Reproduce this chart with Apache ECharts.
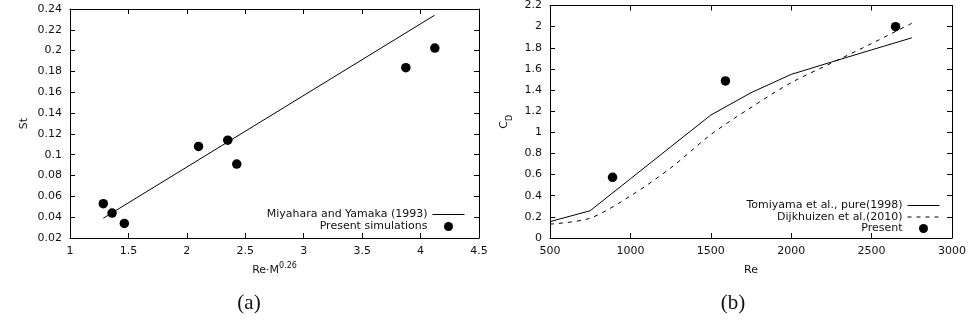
<!DOCTYPE html>
<html>
<head>
<meta charset="utf-8">
<script src="https://cdn.jsdelivr.net/npm/echarts@6/dist/echarts.min.js"></script>
<style>
html,body{margin:0;padding:0;background:#fff;}
#chart{width:969px;height:323px;}
</style>
</head>
<body>
<div id="chart"></div>
<script>
// (a) Strouhal number
const miyaharaX = [1.285, 4.12];
const miyaharaY = [0.039, 0.234];
const presentAX = [1.285, 1.36, 1.465, 2.10, 2.35, 2.427, 3.874, 4.122];
const presentAY = [0.053, 0.044, 0.034, 0.108, 0.114, 0.091, 0.1836, 0.2025];
// (b) Drag coefficient
const reGrid = [500, 750, 1000, 1250, 1500, 1750, 2000, 2250, 2500, 2750];
const tomiyamaCD = [0.155, 0.258, 0.560, 0.862, 1.163, 1.375, 1.548, 1.665, 1.780, 1.894];
const dijkhuizenCD = [0.131, 0.188, 0.398, 0.662, 0.978, 1.235, 1.470, 1.655, 1.840, 2.032];
const presentBX = [889, 1591, 2649];
const presentBY = [0.574, 1.486, 2.0];

const pairs = (xs, ys) => xs.map((x, i) => [x, ys[i]]);
const FONT = 'DejaVu Sans';
const TXT = '#111';

function mainAxis(gridIndex, min, max, interval, fmt, extra) {
  return Object.assign({
    type: 'value', gridIndex, min, max, interval,
    axisLine: {show: true, onZero: false, lineStyle: {color: '#000', width: 1}},
    axisTick: {show: true, inside: true, length: 5, lineStyle: {color: '#000'}},
    axisLabel: {color: TXT, fontFamily: FONT, fontSize: 11, formatter: fmt},
    splitLine: {show: false}
  }, extra);
}
function mirrorAxis(gridIndex, min, max, interval, position) {
  return {
    type: 'value', gridIndex, min, max, interval, position,
    axisLine: {show: true, onZero: false, lineStyle: {color: '#000', width: 1}},
    axisTick: {show: true, inside: true, length: 5, lineStyle: {color: '#000'}},
    axisLabel: {show: false},
    splitLine: {show: false}
  };
}
const fmt = v => String(+v.toFixed(2));
const hideSym = {opacity: 0, color: 'transparent', borderWidth: 0};
const legSolid = {color: '#000', width: 1, type: 'solid'};
const legDash = {color: '#000', width: 1, type: [4, 5]};

const chart = echarts.init(document.getElementById('chart'), null, {renderer: 'canvas'});
chart.setOption({
  backgroundColor: '#fff',
  animation: false,
  grid: [
    {left: 70, top: 9, width: 409, height: 229},
    {left: 550, top: 3, width: 403, height: 235}
  ],
  xAxis: [
    mainAxis(0, 1, 4.5, 0.5, fmt, {
      position: 'bottom', name: '{n|Re·M}{s|0.26}', nameLocation: 'middle', nameGap: 24,
      axisLabel: {color: TXT, fontFamily: FONT, fontSize: 11, margin: 8, formatter: fmt},
      nameTextStyle: {rich: {
        n: {fontFamily: FONT, fontSize: 11, color: TXT, lineHeight: 14, verticalAlign: 'bottom'},
        s: {fontFamily: FONT, fontSize: 8, color: TXT, lineHeight: 14, verticalAlign: 'top'}
      }}
    }),
    mainAxis(1, 500, 3000, 500, fmt, {
      position: 'bottom', name: 'Re', nameLocation: 'middle', nameGap: 27,
      axisLabel: {color: TXT, fontFamily: FONT, fontSize: 11, margin: 8, formatter: fmt},
      nameTextStyle: {fontFamily: FONT, fontSize: 11, color: TXT}
    }),
    mirrorAxis(0, 1, 4.5, 0.5, 'top'),
    mirrorAxis(1, 500, 3000, 500, 'top')
  ],
  yAxis: [
    mainAxis(0, 0.02, 0.24, 0.02, fmt, {
      position: 'left', name: 'St', nameLocation: 'middle', nameGap: 40,
      nameTextStyle: {fontFamily: FONT, fontSize: 11, color: TXT}
    }),
    mainAxis(1, 0, 2.2, 0.2, fmt, {
      position: 'left', name: '{n|C}{s|D}', nameLocation: 'middle', nameGap: 36,
      nameTextStyle: {rich: {
        n: {fontFamily: FONT, fontSize: 11, color: TXT, lineHeight: 15, verticalAlign: 'top'},
        s: {fontFamily: FONT, fontSize: 8, color: TXT, lineHeight: 15, verticalAlign: 'bottom'}
      }}
    }),
    mirrorAxis(0, 0.02, 0.24, 0.02, 'right'),
    mirrorAxis(1, 0, 2.2, 0.2, 'right')
  ],
  legend: [
    {
      right: 504, top: 209, orient: 'vertical', align: 'right', padding: 0, itemGap: 1,
      itemWidth: 32, itemHeight: 9,
      textStyle: {fontFamily: FONT, fontSize: 11, color: TXT},
      data: [
        {name: 'Miyahara and Yamaka (1993)', itemStyle: hideSym, lineStyle: legSolid},
        {name: 'Present simulations', icon: 'circle', itemStyle: {color: '#000', opacity: 1}}
      ]
    },
    {
      right: 29, top: 200, orient: 'vertical', align: 'right', padding: 0, itemGap: 0.5,
      itemWidth: 32, itemHeight: 9,
      textStyle: {fontFamily: FONT, fontSize: 11, color: TXT},
      data: [
        {name: 'Tomiyama et al., pure(1998)', itemStyle: hideSym, lineStyle: legSolid},
        {name: 'Dijkhuizen et al.(2010)', itemStyle: hideSym, lineStyle: legDash},
        {name: 'Present', icon: 'circle', itemStyle: {color: '#000', opacity: 1}}
      ]
    }
  ],
  series: [
    {
      name: 'Miyahara and Yamaka (1993)', type: 'line', xAxisIndex: 0, yAxisIndex: 0,
      data: pairs(miyaharaX, miyaharaY), symbol: 'none',
      lineStyle: {color: '#000', width: 1}, itemStyle: {color: '#000'}
    },
    {
      name: 'Present simulations', type: 'scatter', xAxisIndex: 0, yAxisIndex: 0,
      data: pairs(presentAX, presentAY), symbol: 'circle', symbolSize: 9.5,
      itemStyle: {color: '#000', opacity: 1}
    },
    {
      name: 'Tomiyama et al., pure(1998)', type: 'line', xAxisIndex: 1, yAxisIndex: 1,
      data: pairs(reGrid, tomiyamaCD), symbol: 'none',
      lineStyle: {color: '#000', width: 1}, itemStyle: {color: '#000'}
    },
    {
      name: 'Dijkhuizen et al.(2010)', type: 'line', xAxisIndex: 1, yAxisIndex: 1,
      data: pairs(reGrid, dijkhuizenCD), symbol: 'none', smooth: 0.3,
      lineStyle: {color: '#000', width: 1, type: [4, 5]}, itemStyle: {color: '#000'}
    },
    {
      name: 'Present', type: 'scatter', xAxisIndex: 1, yAxisIndex: 1,
      data: pairs(presentBX, presentBY), symbol: 'circle', symbolSize: 9.5,
      itemStyle: {color: '#000', opacity: 1}
    }
  ],
  graphic: [
    {type: 'text', x: 249, y: 303, style: {text: '(a)', font: '21px "Liberation Serif"', fill: '#111', align: 'center', verticalAlign: 'middle'}},
    {type: 'text', x: 733, y: 303, style: {text: '(b)', font: '21px "Liberation Serif"', fill: '#111', align: 'center', verticalAlign: 'middle'}}
  ]
});
</script>
</body>
</html>
